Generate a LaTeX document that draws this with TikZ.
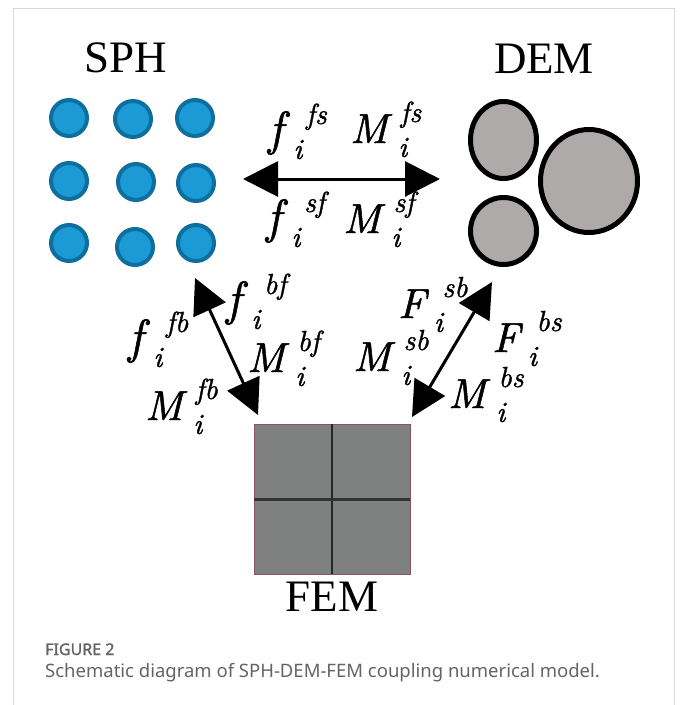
\documentclass[tikz,border=0pt]{standalone}
\usepackage{fontspec}
\setmainfont{Liberation Serif}
\setsansfont{Noto Sans}
\newfontfamily\capbold{Noto Sans}[FakeBold=1.6]
\newfontfamily\lbfont{lmroman10-italic.otf}[FakeBold=1.2]
\usetikzlibrary{arrows.meta}

\definecolor{sphfill}{RGB}{27,154,214}
\definecolor{sphring}{RGB}{14,111,158}
\definecolor{demgray}{RGB}{174,170,170}
\definecolor{femgray}{RGB}{127,129,128}
\definecolor{femedge}{RGB}{140,82,96}
\definecolor{capgray}{RGB}{100,100,100}

% quantities with stacked sub- and superscript
\newcommand{\supsz}{\fontsize{29}{31}\selectfont}
\newcommand{\bigf}{{\fontsize{48}{50}\selectfont f}}
\newcommand{\stackix}[4]{\kern#1\rlap{\kern#2\raisebox{0.5em}{\supsz #4}}\raisebox{-0.33em}{\supsz #3}}
\newcommand{\fq}[2]{\bigf\stackix{0.25em}{0.3em}{#1}{#2}}
\newcommand{\Mq}[2]{M\stackix{0.25em}{0.05em}{#1}{#2}}
\newcommand{\Fq}[2]{F\stackix{0.2em}{0.2em}{#1}{#2}}

\tikzset{
  lbl/.style={font=\lbfont\fontsize{42}{46}\selectfont, inner sep=0pt, anchor=base west},
  modname/.style={font=\fontsize{45}{50}\selectfont, inner sep=0pt, anchor=base},
  coupling/.style={line width=3pt, {Triangle[length=35pt,width=35pt]}-{Triangle[length=35pt,width=35pt]}},
  captxt/.style={font=\sffamily\fontsize{18.5}{22}\selectfont, text=capgray, anchor=base west, inner sep=0pt},
}

\begin{document}
\begin{tikzpicture}[x=1pt,y=-1pt]
\useasboundingbox (0,0) rectangle (680,705);
\draw[gray!30, line width=1pt] (13,705) -- (13,8) -- (674,8) -- (674,705);

\node[modname] (sph) at (126,72) {SPH};
\node[modname] (dem) at (544,73) {DEM};
\node[modname] (fem) at (332,611) {FEM};

% SPH particles
\foreach \x/\y in {69/118,133/119,195/118,69/181,136/182,196/183,69/243,135/247,196/243}
  {\filldraw[fill=sphfill, draw=sphring, line width=4pt] (\x,\y) circle (18);}

% DEM particles
\filldraw[fill=demgray, line width=5pt] (503.5,140) ellipse (33 and 38.5);
\filldraw[fill=demgray, line width=5pt] (503.5,231) ellipse (33 and 33.5);
\filldraw[fill=demgray, line width=5pt] (589,181) ellipse (48.5 and 51.5);

% FEM mesh
\filldraw[fill=femgray, draw=femedge, line width=1pt] (254,424) rectangle (410,574);
\draw[line width=1.5pt, black!85] (332,424) -- (332,574);
\draw[line width=3pt, black!80] (254,499) -- (410,499);

% coupling forces
\coordinate (sfa) at (243,179);
\coordinate (sfb) at (440,179);
\draw[coupling] (sfa) -- (sfb);
\coordinate (fba) at (195,278);
\coordinate (fbb) at (258,415);
\draw[coupling] (fba) -- (fbb);
\coordinate (sba) at (492,282);
\coordinate (sbb) at (412,417);
\draw[coupling] (sba) -- (sbb);

\node[lbl] (ffs) at (268,145) {\fq{i}{fs}};
\node[lbl] (mfs) at (350,143) {\Mq{i}{fs}};
\node[lbl] (fsf) at (266,233) {\fq{i}{sf}};
\node[lbl] (msf) at (343,233) {\Mq{i}{sf}};
\node[lbl] (ffb) at (128,353) {\fq{i}{fb}};
\node[lbl] (fbf) at (226,315) {\fq{i}{bf}};
\node[lbl] (mbf) at (247,372) {\Mq{i}{bf}};
\node[lbl] (mfb) at (145,420) {\Mq{i}{fb}};
\node[lbl] (fsb) at (398,318) {\Fq{i}{sb}};
\node[lbl] (fbs) at (492,352) {\Fq{i}{bs}};
\node[lbl] (msb) at (353,371) {\Mq{i}{sb}};
\node[lbl] (mbs) at (448,408) {\Mq{i}{bs}};

\node[captxt, font=\capbold\fontsize{16}{20}\selectfont] (figno) at (45,655) {FIGURE 2};
\node[captxt] (cap) at (45,677) {Schematic diagram of SPH-DEM-FEM coupling numerical model.};
\end{tikzpicture}
\end{document}
